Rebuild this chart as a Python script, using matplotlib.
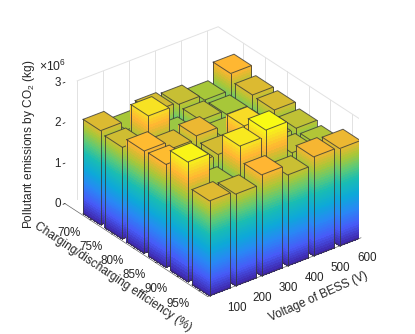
import numpy as np
import matplotlib
matplotlib.use("Agg")
import matplotlib.pyplot as plt
from matplotlib.colors import LinearSegmentedColormap

plt.rcParams['font.family'] = ['Liberation Sans', 'DejaVu Sans']
plt.rcParams['mathtext.default'] = 'regular'

voltage_labels = ["100", "200", "300", "400", "500", "600"]
eff_labels = ["70%", "75%", "80%", "85%", "90%", "95%"]

# pollutant emissions in 1e6 kg, one row per efficiency, one column per voltage
row_70 = [2.33, 2.10, 2.30, 2.24, 2.10, 2.51]
row_75 = [2.27, 2.80, 2.05, 2.20, 2.10, 2.33]
row_80 = [2.53, 2.33, 2.41, 2.15, 2.10, 2.31]
row_85 = [2.55, 2.30, 2.30, 2.76, 2.20, 2.21]
row_90 = [2.96, 2.12, 2.86, 3.01, 2.20, 2.15]
row_95 = [2.35, 2.27, 2.50, 2.25, 2.45, 2.41]
emissions = [row_70, row_75, row_80, row_85, row_90, row_95]

parula = LinearSegmentedColormap.from_list("parula", [
    (0.0, (0.242, 0.150, 0.660)), (0.125, (0.277, 0.355, 0.970)),
    (0.25, (0.160, 0.530, 0.960)), (0.375, (0.050, 0.660, 0.850)),
    (0.5, (0.100, 0.740, 0.700)), (0.6, (0.360, 0.790, 0.470)),
    (0.7, (0.660, 0.780, 0.220)), (0.775, (0.860, 0.730, 0.190)),
    (0.83, (1.000, 0.710, 0.200)), (0.93, (0.970, 0.880, 0.140)),
    (1.0, (0.977, 0.984, 0.080))])

# axis box
e0, e1 = -0.15, 6.4
v0, v1 = 0.53, 6.42
wall_top = 2.92

fig = plt.figure(figsize=(4.15, 3.34), dpi=100)
ax = fig.add_axes([58.9 / 415, 19.9 / 334, 300 / 415, 300 / 334], projection="3d",
                  proj_type="ortho", computed_zorder=False)
ax.view_init(elev=30, azim=-37.5)
ax.set_box_aspect(((e1 - e0) * 35.8, (v1 - v0) * 32.8, 140), zoom=(1.85 / 1.9057) * np.linalg.norm([(e1 - e0) * 35.8, (v1 - v0) * 32.8, 140]) / 300)

# light wall grid
grid_col = "#e2e2e2"
for k in range(1, 7):
    ax.plot([e0, e0], [k, k], [0, wall_top], color=grid_col, lw=0.7, zorder=0)
    ax.plot([k, k], [v1, v1], [0, wall_top], color=grid_col, lw=0.7, zorder=0)
ax.plot([e0, e0, e1], [1, v1, v1], [wall_top] * 3, color=grid_col, lw=0.7, zorder=0)

half = 0.4
top_z = 3.01
order = 1
ec = (0.22, 0.22, 0.22, 0.8)
# back to front so the bars cover each other properly
for j in range(6):
    for i in range(5, -1, -1):
        x = j + 1
        y = i + 1
        h = emissions[j][i]
        zs = np.linspace(0, h, 40)
        # +x face
        Y, Z = np.meshgrid([y - half, y + half], zs)
        X = np.full_like(Y, x + half)
        ax.plot_surface(X, Y, Z, facecolors=parula(Z[:-1, :-1] / top_z), shade=False,
                        linewidth=0, antialiased=False, zorder=order)
        # -y face
        X, Z = np.meshgrid([x - half, x + half], zs)
        Y = np.full_like(X, y - half)
        ax.plot_surface(X, Y, Z, facecolors=parula(Z[:-1, :-1] / top_z), shade=False,
                        linewidth=0, antialiased=False, zorder=order)
        # top
        X, Y = np.meshgrid([x - half, x + half], [y - half, y + half])
        Z = np.full_like(X, h)
        ax.plot_surface(X, Y, Z, color=parula(h / top_z), shade=False, linewidth=0,
                        zorder=order + 0.2)
        # edges
        a, b = x - half, x + half
        c, d = y - half, y + half
        ax.plot([a, b, b, a, a], [c, c, d, d, c], [h] * 5, color=ec, lw=0.7, zorder=order + 0.5)
        ax.plot([a, b, b], [c, c, d], [0, 0, 0], color=ec, lw=0.7, zorder=order + 0.5)
        ax.plot([a, a], [c, c], [0, h], color=ec, lw=0.7, zorder=order + 0.5)
        ax.plot([b, b], [c, c], [0, h], color=ec, lw=0.7, zorder=order + 0.5)
        ax.plot([b, b], [d, d], [0, h], color=ec, lw=0.7, zorder=order + 0.5)
        order += 1

ax.set_xlim(e0, e1)
ax.set_ylim(v0, v1)
ax.set_zlim(0, 3)
ax.set_xticks(range(1, 7))
ax.set_xticklabels(eff_labels)
ax.set_yticks(range(1, 7))
ax.set_yticklabels(voltage_labels)
ax.set_zticks([0, 1, 2, 3])
ax.set_zticklabels(["0", "1", "2", "3"])
ax.grid(False)

ax.zaxis.set_ticks_position("lower")
ax.zaxis.set_label_position("lower")
for axis in (ax.xaxis, ax.yaxis, ax.zaxis):
    axis.set_pane_color((1, 1, 1, 0))
    axis.pane.set_edgecolor((1, 1, 1, 0))
    axis.line.set_color((0.4, 0.4, 0.4, 1))
    axis.line.set_linewidth(0.5)
    axis._axinfo["tick"]["color"] = (0.4, 0.4, 0.4, 1)
    axis._axinfo["tick"]["inward_factor"] = 0
    axis._axinfo["tick"]["outward_factor"] = 0.12
    axis._axinfo["tick"]["linewidth"] = {True: 0.5, False: 0.5}
ax.zaxis.line.set_color((1, 1, 1, 0))
ax.zaxis._axinfo["tick"]["inward_factor"] = 0.15
ax.zaxis._axinfo["tick"]["outward_factor"] = 0
ax.xaxis.set_tick_params(labelsize=8.4, labelcolor="#262626", pad=-1)
ax.yaxis.set_tick_params(labelsize=8.4, labelcolor="#262626", pad=-2.6)
ax.zaxis.set_tick_params(labelsize=8.4, labelcolor="#262626", pad=-5.3)
for lab in ax.get_xticklabels():
    lab.set_ha("right")
    lab.set_va("center_baseline")
for lab in ax.get_yticklabels():
    lab.set_ha("left")
for lab in ax.get_zticklabels():
    lab.set_va("center_baseline")

fig.text(113 / 415, 1 - 277 / 334, "Charging/discharging efficiency (%)", fontsize=8.6, color="#262626",
         rotation=-33.8, ha="center", va="center", rotation_mode="anchor")
fig.text(318 / 415, 1 - 297 / 334, "Voltage of BESS (V)", fontsize=8.6, color="#262626",
         rotation=24, ha="center", va="center", rotation_mode="anchor")
fig.text(29 / 415, 1 - 144 / 334, "Pollutant emissions by CO$_2$ (kg)", fontsize=8.6, color="#262626",
         rotation=90, ha="center", va="center", rotation_mode="anchor")
fig.text(39 / 415, 1 - 66 / 334, r"$\times 10^{6}$", fontsize=8.8, color="#262626", ha="left", va="center")

fig.savefig("out.png", dpi=100)
